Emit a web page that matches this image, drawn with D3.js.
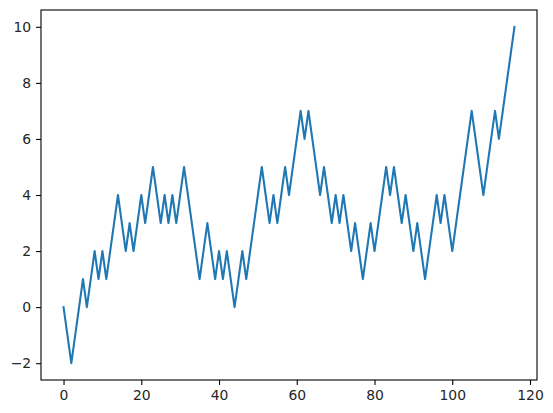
<!DOCTYPE html>
<html>
<head>
<meta charset="utf-8">
<script src="https://cdn.jsdelivr.net/npm/d3@7"></script>
<style>
body { margin:0; background:#fff; }
.axis text { font-family:"DejaVu Sans", sans-serif; font-size:13.9px; fill:#262626; }
</style>
</head>
<body>
<svg></svg>
<script>
// random walk values, one per step
var walk = [0,-1,-2,-1,0,1,0,1,2,1,2,1,2,3,4,3,2,3,2,3,4,3,4,5,4,3,4,3,4,3,
    4,5,4,3,2,1,2,3,2,1,2,1,2,1,0,1,2,1,2,3,4,5,4,3,4,3,4,5,4,5,
    6,7,6,7,6,5,4,5,4,3,4,3,4,3,2,3,2,1,2,3,2,3,4,5,4,5,4,3,4,3,
    2,3,2,1,2,3,4,3,4,3,2,3,4,5,6,7,6,5,4,5,6,7,6,7,8,9,10]
var xTicks = [0,20,40,60,80,100,120]
var yTicks = [-2,0,2,4,6,8,10]

var screen = {width:553, height:413}
var margins = {top:10, bottom:33, left:41, right:16}

var width = screen.width - margins.left - margins.right
var height = screen.height - margins.top - margins.bottom

var svg = d3.select("svg")
    .attr("width", screen.width)
    .attr("height", screen.height)

var n = walk.length - 1
var xPad = n * 0.05
var yPad = (d3.max(walk) - d3.min(walk)) * 0.05

var xScale = d3.scaleLinear()
    .domain([-xPad, n + xPad])
    .range([0, width])
var yScale = d3.scaleLinear()
    .domain([d3.min(walk) - yPad, d3.max(walk) + yPad])
    .range([height, 0])

var graph = svg.append("g")
    .attr("id", "graph")
    .attr("transform", "translate(" + margins.left + "," + margins.top + ")")

var line = d3.line()
    .x(function(d, i){ return xScale(i) })
    .y(function(d){ return yScale(d) })

graph.append("path")
    .datum(walk)
    .attr("d", line)
    .attr("fill", "none")
    .attr("stroke", "#1f77b4")
    .attr("stroke-width", 2.08)
    .attr("stroke-linejoin", "round")
    .attr("stroke-linecap", "square")

var xAxis = d3.axisBottom(xScale).tickValues(xTicks).tickSize(4.9).tickPadding(4.9).tickFormat(d3.format("d"))
var yAxis = d3.axisLeft(yScale).tickValues(yTicks).tickSize(4.9).tickPadding(4.9).tickFormat(d3.format("d"))

graph.append("g")
    .classed("axis", true)
    .attr("transform", "translate(0," + height + ")")
    .call(xAxis)

graph.append("g")
    .classed("axis", true)
    .call(yAxis)

svg.selectAll(".axis .domain").remove()
svg.selectAll(".axis line").attr("stroke", "#000").attr("stroke-width", 1.1)

// frame around the plot
graph.append("rect")
    .attr("x", 0)
    .attr("y", 0)
    .attr("width", width)
    .attr("height", height)
    .attr("fill", "none")
    .attr("stroke", "#000")
    .attr("stroke-width", 1.1)
</script>
</body>
</html>
